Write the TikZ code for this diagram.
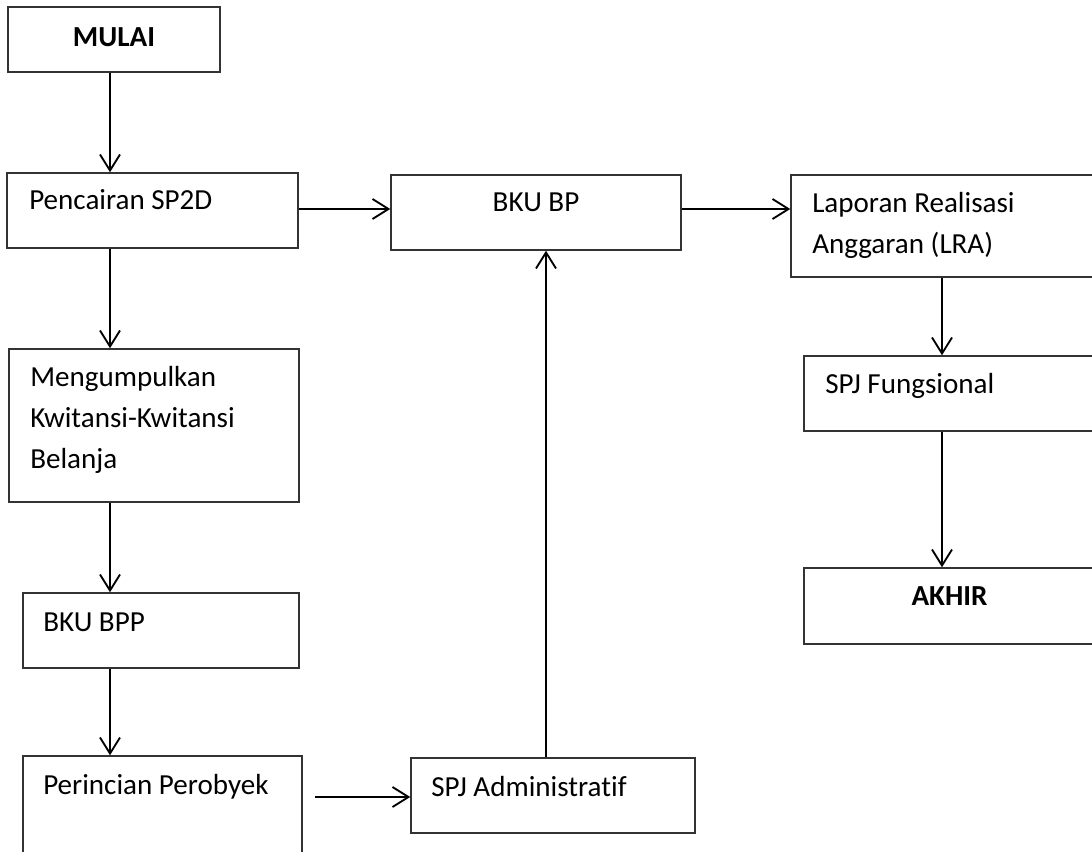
\documentclass[tikz,border=0pt]{standalone}
\usepackage{fontspec}
\setmainfont{Carlito}[Ligatures=NoCommon]
\usetikzlibrary{arrows.meta,fit}
\begin{document}
\begin{tikzpicture}[x=0.75pt,y=-0.75pt,
  box/.style={draw=black!80, line width=1.1pt, inner sep=0pt},
  txt/.style={inner sep=0pt, font=\fontsize{21.8}{30}\selectfont},
  bold/.style={txt, font=\fontsize{21.8}{30}\selectfont\bfseries},
  arr/.style={draw=black, line width=1.4pt,
    -{Straight Barb[length=12pt,width=15pt]}}]
  \useasboundingbox (0,0) rectangle (1092,852);
  \clip (0,0) rectangle (1092,852);

  % guide coordinates for the connector lines
  \coordinate (colL) at (110,0);
  \coordinate (colM) at (546,0);
  \coordinate (colR) at (942,0);
  \coordinate (rowA) at (0,209);
  \coordinate (rowB) at (315,797);

  % boxes
  \node[box, fit={(8,7)(220,72)}] (mulai) {};
  \node[box, fit={(7,173)(298,248)}] (pencairan) {};
  \node[box, fit={(391,175)(681,250)}] (bkubp) {};
  \node[box, fit={(791,175)(1093,277)}] (laporan) {};
  \node[box, fit={(9,349)(299,502)}] (kwitansi) {};
  \node[box, fit={(804,356)(1095,431)}] (spjf) {};
  \node[box, fit={(23,593)(299,668)}] (bkubpp) {};
  \node[box, fit={(804,568)(1095,644)}] (akhir) {};
  \node[box, fit={(23,756)(302,880)}] (perincian) {};
  \node[box, fit={(411,758)(695,833)}] (spjadm) {};

  % labels
  \node[bold, anchor=base] (mulaiT) at (114,47) {MULAI};
  \node[txt, anchor=base west] (pencairanT) at (29,210) {Pencairan SP2D};
  \node[txt, anchor=base] (bkubpT) at (536,212) {BKU BP};
  \node[txt, anchor=base west] (laporanT1) at (812,212.5) {Laporan Realisasi};
  \node[txt, anchor=base west] (laporanT2) at (812,253.5) {Anggaran (LRA)};
  \node[txt, anchor=base west] (kwitansiT1) at (30,386) {Mengumpulkan};
  \node[txt, anchor=base west] (kwitansiT2) at (30,427.5) {Kwitansi-Kwitansi};
  \node[txt, anchor=base west] (kwitansiT3) at (30,468) {Belanja};
  \node[txt, anchor=base west] (spjfT) at (825,393) {SPJ Fungsional};
  \node[bold, anchor=base] (akhirT) at (949.5,605) {AKHIR};
  \node[txt, anchor=base west] (bkubppT) at (43,631) {BKU BPP};
  \node[txt, anchor=base west] (perincianT) at (43,794) {Perincian Perobyek};
  \node[txt, anchor=base west] (spjadmT) at (431,796) {SPJ Administratif};

  % connectors
  \draw[arr] (mulai.south -| colL) -- (pencairan.north -| colL);
  \draw[arr] (pencairan.south -| colL) -- (kwitansi.north -| colL);
  \draw[arr] (kwitansi.south -| colL) -- (bkubpp.north -| colL);
  \draw[arr] (bkubpp.south -| colL) -- (perincian.north -| colL);
  \draw[arr] (pencairan.east |- rowA) -- (bkubp.west |- rowA);
  \draw[arr] (bkubp.east |- rowA) -- (laporan.west |- rowA);
  \draw[arr] (rowB) -- (spjadm.west |- rowB);
  \draw[arr] (spjadm.north -| colM) -- (bkubp.south -| colM);
  \draw[arr] (laporan.south -| colR) -- (spjf.north -| colR);
  \draw[arr] (spjf.south -| colR) -- (akhir.north -| colR);
\end{tikzpicture}
\end{document}
